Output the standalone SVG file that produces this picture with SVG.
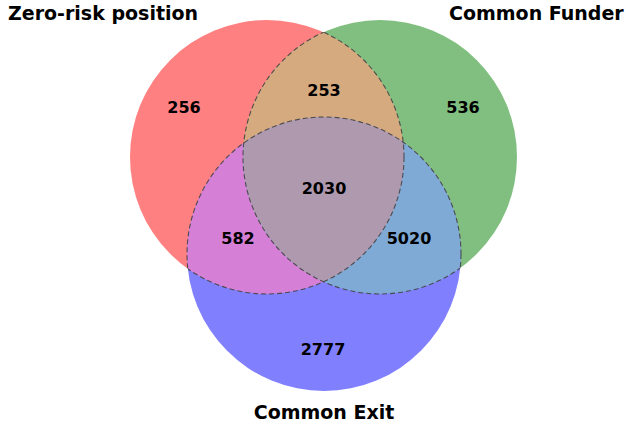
<svg xmlns="http://www.w3.org/2000/svg" width="626" height="428" viewBox="0 0 626 428">
<style>
.num{font-family:"DejaVu Sans",sans-serif;font-weight:bold;font-size:16px;fill:#000;text-anchor:middle}
.title{font-family:"DejaVu Sans",sans-serif;font-weight:bold;font-size:19px;fill:#000}
.edge{fill:none;stroke:#444;stroke-width:1.1;stroke-dasharray:5,3;stroke-opacity:0.9}
</style>
<defs>
<clipPath id="cA"><circle cx="267" cy="157" r="137"/></clipPath>
<clipPath id="cB"><circle cx="380" cy="157" r="137"/></clipPath>
<clipPath id="cC"><circle cx="324" cy="254" r="137"/></clipPath>
<clipPath id="cBC"><circle cx="380" cy="157" r="137"/><circle cx="324" cy="254" r="137"/></clipPath>
<clipPath id="cAC"><circle cx="267" cy="157" r="137"/><circle cx="324" cy="254" r="137"/></clipPath>
<clipPath id="cAB"><circle cx="267" cy="157" r="137"/><circle cx="380" cy="157" r="137"/></clipPath>
</defs>
<g id="regions">
<circle id="setA" cx="267" cy="157" r="137" fill="#FF8080"/>
<circle id="setB" cx="380" cy="157" r="137" fill="#80BF80"/>
<circle id="setC" cx="324" cy="254" r="137" fill="#8080FF"/>
<g clip-path="url(#cA)"><circle cx="380" cy="157" r="137" fill="#D6AA7F"/></g>
<g clip-path="url(#cA)"><circle cx="324" cy="254" r="137" fill="#D67FD6"/></g>
<g clip-path="url(#cB)"><circle cx="324" cy="254" r="137" fill="#7FAAD6"/></g>
<g clip-path="url(#cA)"><g clip-path="url(#cB)"><circle cx="324" cy="254" r="137" fill="#AF99AF"/></g></g>
</g>
<g id="connectors">
<g clip-path="url(#cBC)"><circle class="edge" cx="267" cy="157" r="137"/></g>
<g clip-path="url(#cAC)"><circle class="edge" cx="380" cy="157" r="137"/></g>
<g clip-path="url(#cAB)"><circle class="edge" cx="324" cy="254" r="137"/></g>
</g>
<g id="labels">
<text class="num" x="184" y="113">256</text>
<text class="num" x="324" y="96">253</text>
<text class="num" x="463" y="113">536</text>
<text class="num" x="324" y="194">2030</text>
<text class="num" x="238" y="244">582</text>
<text class="num" x="409" y="244">5020</text>
<text class="num" x="323" y="355">2777</text>
</g>
<g id="titles">
<text class="title" x="8" y="20">Zero-risk position</text>
<text class="title" x="449" y="20">Common Funder</text>
<text class="title" x="324" y="419" text-anchor="middle">Common Exit</text>
</g>
</svg>
